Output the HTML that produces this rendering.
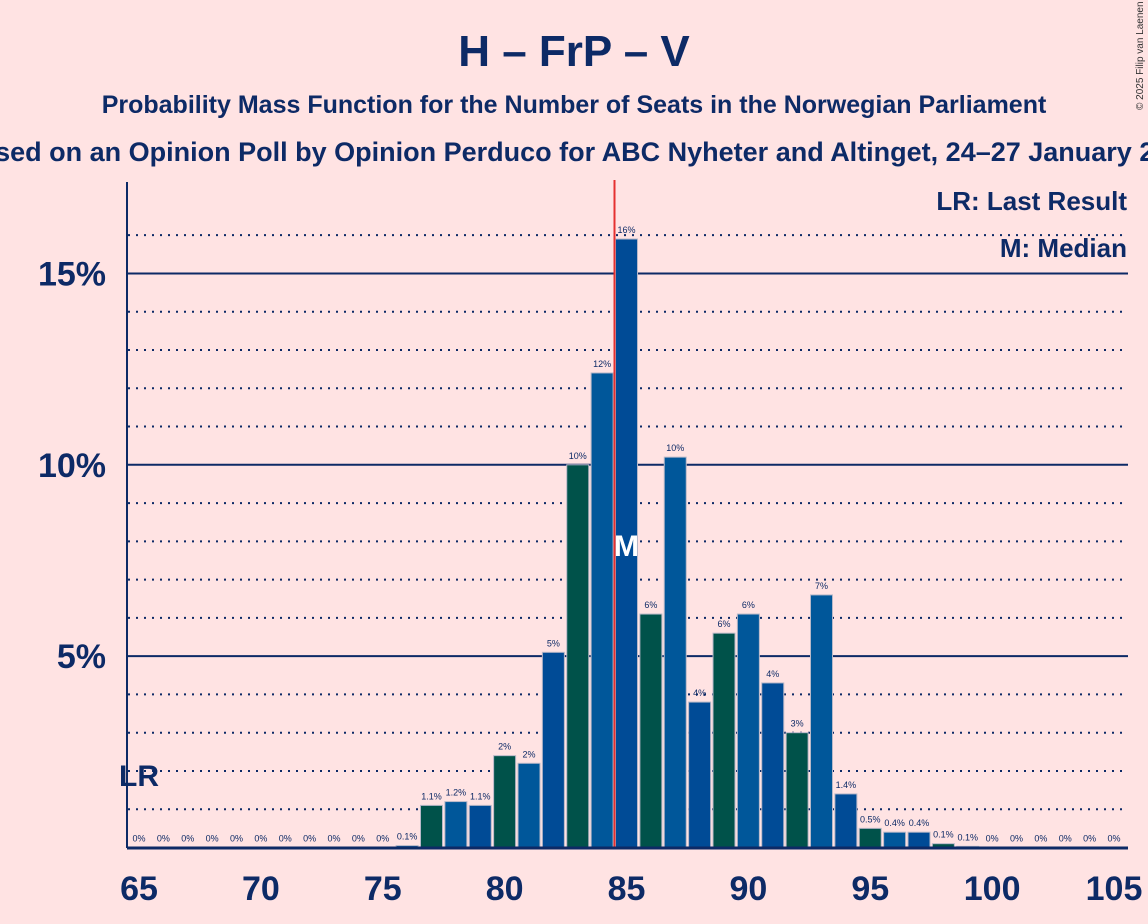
<!DOCTYPE html>
<html><head><meta charset="utf-8"><style>
body{margin:0;background:#ffe3e3;}
svg{display:block;font-family:"Liberation Sans",sans-serif;}
</style></head><body>
<svg width="1148" height="924" viewBox="0 0 1148 924">
<rect width="1148" height="924" fill="#ffe3e3"/>
<text x="574" y="66" text-anchor="middle" font-size="44" font-weight="bold" fill="#0d2a66">H – FrP – V</text>
<text x="574" y="113" text-anchor="middle" font-size="25" font-weight="bold" fill="#0d2a66">Probability Mass Function for the Number of Seats in the Norwegian Parliament</text>
<text x="580" y="161" text-anchor="middle" font-size="27" font-weight="bold" fill="#0d2a66">Based on an Opinion Poll by Opinion Perduco for ABC Nyheter and Altinget, 24–27 January 2025</text>
<text x="1143" y="110" font-size="10" fill="#333" transform="rotate(-90 1143 110)">© 2025 Filip van Laenen</text>
<g id="grid"></g>
<g id="bars"></g>
<g id="labels"></g>
<line x1="127" y1="182" x2="127" y2="848" stroke="#0d2a66" stroke-width="2"/>
<line x1="127" y1="848" x2="1128" y2="848" stroke="#0d2a66" stroke-width="3"/>
<text x="1127" y="210" text-anchor="end" font-size="26" font-weight="bold" fill="#0d2a66">LR: Last Result</text>
<text x="1127" y="257" text-anchor="end" font-size="26" font-weight="bold" fill="#0d2a66">M: Median</text>
</svg>
<script>
const seats=[65,66,67,68,69,70,71,72,73,74,75,76,77,78,79,80,81,82,83,84,85,86,87,88,89,90,91,92,93,94,95,96,97,98,99,100,101,102,103,104,105];
const probs=[0,0,0,0,0,0,0,0,0,0,0,0.05,1.1,1.2,1.1,2.4,2.2,5.1,10.0,12.4,15.9,6.1,10.2,3.8,5.6,6.1,4.3,3.0,6.6,1.4,0.5,0.4,0.4,0.1,0.03,0,0,0,0,0,0];
const valueLabels=["0%","0%","0%","0%","0%","0%","0%","0%","0%","0%","0%","0.1%","1.1%","1.2%","1.1%","2%","2%","5%","10%","12%","16%","6%","10%","4%","6%","6%","4%","3%","7%","1.4%","0.5%","0.4%","0.4%","0.1%","0.1%","0%","0%","0%","0%","0%","0%"];
const yTicks=[5,10,15];
const xTicks=[65,70,75,80,85,90,95,100,105];
const median=85, lastResult=65;
const NS="http://www.w3.org/2000/svg";
const X=s=>139+(s-65)*24.375;
const Y=p=>847.5-p*38.27;
function mk(t,a,parent){const e=document.createElementNS(NS,t);for(const k in a)e.setAttribute(k,a[k]);document.getElementById(parent).appendChild(e);return e;}
for(let p=1;p<=16;p++){
 const solid=p%5===0;
 const l=mk('line',{x1:128,x2:1128,y1:Y(p),y2:Y(p),stroke:'#0d2a66','stroke-width':2,'stroke-dasharray':solid?'none':'2,6'},'grid');
 
 
}
yTicks.forEach(t=>{
 const e=mk('text',{x:106,y:Y(t)+12,'text-anchor':'end','font-size':34,'font-weight':'bold',fill:'#0d2a66'},'labels');
 e.textContent=t+'%';
 
 
});
xTicks.forEach(t=>{
 const e=mk('text',{x:X(t),y:900,'text-anchor':'middle','font-size':34,'font-weight':'bold',fill:'#0d2a66'},'labels');
 e.textContent=t;
 
 
});
const cols={2:'#00524a',0:'#00579a',1:'#004b96'};
seats.forEach((s,i)=>{
 const p=probs[i];
 if(p>0){
  const b=mk('rect',{x:X(s)-11,y:Y(p),width:22,height:847.5-Y(p),fill:cols[s%3],stroke:'#b8b8c8','stroke-width':1},'bars');
  
  
 }
 const t=mk('text',{x:X(s),y:Y(p)-6,'text-anchor':'middle','font-size':9,fill:'#0d2a66'},'labels');
 t.textContent=valueLabels[i];
 
 
});
const ml=mk('line',{x1:X(median)-12,x2:X(median)-12,y1:180,y2:847,stroke:'#e53030','stroke-width':2},'labels');


const mt=mk('text',{x:X(median),y:556,'text-anchor':'middle','font-size':30,'font-weight':'bold',fill:'#ffffff'},'labels');
mt.textContent='M';


const lr=mk('text',{x:X(lastResult),y:786,'text-anchor':'middle','font-size':30,'font-weight':'bold',fill:'#0d2a66'},'labels');
lr.textContent='LR';


</script>
</body></html>
